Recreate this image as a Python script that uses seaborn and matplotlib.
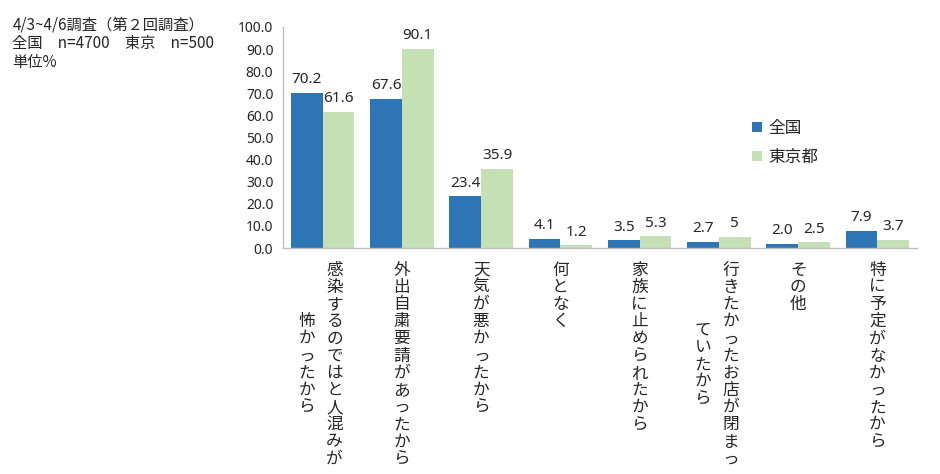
"""Reasons for staying home: national vs Tokyo, survey round 2."""

import matplotlib

matplotlib.use("Agg")

import matplotlib.pyplot as plt
import numpy as np
import pandas as pd
import seaborn as sns

HEADER_LINES = [
    "4/3~4/6調査（第２回調査）",
    "全国　n=4700　東京　n=500",
    "単位%",
]

# each reason is split into its vertical columns, right column first
REASONS = [
    ["感染するのではと人混みが", "怖かったから"],
    ["外出自粛要請があったから"],
    ["天気が悪かったから"],
    ["何となく"],
    ["家族に止められたから"],
    ["行きたかったお店が閉まっ", "ていたから"],
    ["その他"],
    ["特に予定がなかったから"],
]
REGIONS = ["全国", "東京都"]
NATIONAL = [70.2, 67.6, 23.4, 4.1, 3.5, 2.7, 2.0, 7.9]
TOKYO = [61.6, 90.1, 35.9, 1.2, 5.3, 5.0, 2.5, 3.7]
NATIONAL_LABELS = ["70.2", "67.6", "23.4", "4.1", "3.5", "2.7", "2.0", "7.9"]
TOKYO_LABELS = ["61.6", "90.1", "35.9", "1.2", "5.3", "5", "2.5", "3.7"]
Y_TICKS = [0, 10, 20, 30, 40, 50, 60, 70, 80, 90, 100]

COLORS = {"全国": "#2E75B6", "東京都": "#C5E0B4"}
AXIS_GREY = "#BFBFBF"
TEXT_COLOR = "#262626"
NUMBER_FONT = ["Noto Sans", "Noto Sans CJK JP"]
PX = 0.72  # points per pixel at dpi 100


def build_frame() -> pd.DataFrame:
    keys = ["".join(cols) for cols in REASONS]
    rows = []
    for region, values in zip(REGIONS, [NATIONAL, TOKYO]):
        for key, value in zip(keys, values):
            rows.append({"reason": key, "region": region, "value": value})
    return pd.DataFrame(rows)


def draw_vertical_labels(axis) -> None:
    pitch = 17.2
    first = 22.0
    for idx, columns in enumerate(REASONS):
        offsets = [0.0] if len(columns) == 1 else [12.0, -16.0]
        lead = len(columns[0])
        for col, dx in zip(columns, offsets):
            start = (lead - len(col)) / 2 * pitch
            for k, ch in enumerate(col):
                axis.annotate(
                    ch,
                    xy=(idx, 0),
                    xycoords=("data", "axes fraction"),
                    xytext=(dx * PX, -(first + start + k * pitch) * PX),
                    textcoords="offset points",
                    ha="center",
                    va="center",
                    fontsize=12,
                    color=TEXT_COLOR,
                    annotation_clip=False,
                )


def main() -> None:
    sns.set_theme(style="white")
    plt.rcParams["font.family"] = ["Noto Sans CJK JP", "DejaVu Sans"]

    frame = build_frame()
    figure = plt.figure(figsize=(9.4, 4.74), dpi=100)
    axis = figure.add_axes([283 / 940, 1 - 248 / 474, (917 - 283) / 940, (248 - 27) / 474])

    sns.barplot(
        data=frame,
        x="reason",
        y="value",
        hue="region",
        hue_order=REGIONS,
        palette=COLORS,
        width=0.8,
        saturation=1,
        linewidth=0,
        ax=axis,
    )

    for container, labels in zip(axis.containers, [NATIONAL_LABELS, TOKYO_LABELS]):
        axis.bar_label(
            container, labels=labels, padding=4, fontsize=11, color=TEXT_COLOR, family=NUMBER_FONT
        )

    axis.set_ylim(0, 100)
    axis.set_xlim(-0.5, len(REASONS) - 0.5)
    axis.set_yticks(Y_TICKS)
    axis.set_yticklabels(
        [f"{v:.1f}" for v in Y_TICKS], fontsize=10, color=TEXT_COLOR, family=NUMBER_FONT
    )
    axis.set_xticks(np.arange(-0.5, len(REASONS), 1.0))
    axis.set_xticklabels([])
    axis.set_xlabel("")
    axis.set_ylabel("")
    axis.tick_params(axis="both", direction="out", length=4, width=1, color=AXIS_GREY)
    axis.tick_params(axis="y", pad=3)
    for side in ("top", "right"):
        axis.spines[side].set_visible(False)
    for side in ("left", "bottom"):
        axis.spines[side].set_color(AXIS_GREY)
        axis.spines[side].set_linewidth(1)

    draw_vertical_labels(axis)

    sns.move_legend(
        axis,
        loc="upper left",
        bbox_to_anchor=(752 / 940, 1 - 120 / 474),
        bbox_transform=figure.transFigure,
        title=None,
        frameon=False,
        fontsize=12,
        handlelength=0.6,
        handleheight=0.6,
        handletextpad=0.4,
        labelspacing=0.7,
        borderpad=0,
        borderaxespad=0,
    )

    for line, y in zip(HEADER_LINES, [25, 43.5, 62]):
        figure.text(12.5 / 940, 1 - y / 474, line, fontsize=11, va="center", color=TEXT_COLOR)

    figure.savefig("out.png", dpi=100)
    plt.close(figure)


if __name__ == "__main__":
    main()
